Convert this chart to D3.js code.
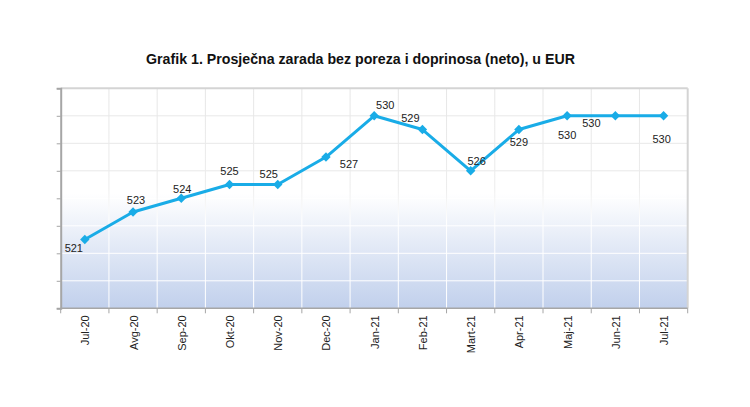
<!DOCTYPE html>
<html>
<head>
<meta charset="utf-8">
<script src="https://cdn.jsdelivr.net/npm/d3@7"></script>
<style>
  html, body { margin: 0; padding: 0; background: #ffffff; }
  svg { display: block; }
</style>
</head>
<body>
<svg id="chart" width="750" height="407"></svg>
<script>
const categories = ["Jul-20","Avg-20","Sep-20","Okt-20","Nov-20","Dec-20","Jan-21","Feb-21","Mart-21","Apr-21","Maj-21","Jun-21","Jul-21"];
const values = [521, 523, 524, 525, 525, 527, 530, 529, 526, 529, 530, 530, 530];
const yTicks = [516, 518, 520, 522, 524, 526, 528, 530, 532];
const title = "Grafik 1. Prosječna zarada bez poreza i doprinosa (neto), u EUR";
// label offsets relative to point (dx, dy of baseline)
const labelOffsets = [[-11,12],[3,-8],[1,-5],[0,-10],[-9,-7],[23,11],[11,-7],[-12,-8],[6,-6],[0,16],[0,23],[-24,11],[-2,27]];

(function () {
const svg = d3.select("#chart");
const pL = 60.7, pR = 687.7, pT = 88.3, pB = 308.3;

const x = d3.scaleBand().domain(categories).range([pL, pR]).padding(0);
const y = d3.scaleLinear().domain([516, 532]).range([pB, pT]);
const cx = d => x(d) + x.bandwidth() / 2;

const defs = svg.append("defs");
const bg = defs.append("linearGradient").attr("id", "bg")
  .attr("gradientUnits", "userSpaceOnUse")
  .attr("x1", 0).attr("x2", 0).attr("y1", pT).attr("y2", pB);
bg.append("stop").attr("offset", 0).attr("stop-color", "#ffffff");
bg.append("stop").attr("offset", 0.48).attr("stop-color", "#ffffff");
bg.append("stop").attr("offset", 1).attr("stop-color", "#c1d0ec");

const gg = defs.append("linearGradient").attr("id", "gridg")
  .attr("gradientUnits", "userSpaceOnUse")
  .attr("x1", 0).attr("x2", 0).attr("y1", pT).attr("y2", pB);
gg.append("stop").attr("offset", 0).attr("stop-color", "#e6e6e6");
gg.append("stop").attr("offset", 0.45).attr("stop-color", "#ececec");
gg.append("stop").attr("offset", 0.6).attr("stop-color", "#ffffff");
gg.append("stop").attr("offset", 1).attr("stop-color", "#ffffff");

// background
svg.append("rect").attr("x", pL).attr("y", pT)
  .attr("width", pR - pL).attr("height", pB - pT)
  .attr("fill", "url(#bg)");

// horizontal grid
const hColor = v => ((y(v) - pT) / (pB - pT) < 0.5 ? "#e8e8e8" : "#ffffff");
svg.append("g").selectAll("line").data(yTicks.slice(1, -1)).join("line")
  .attr("x1", pL).attr("x2", pR)
  .attr("y1", d => y(d)).attr("y2", d => y(d))
  .attr("stroke", d => hColor(d)).attr("stroke-width", 1);

// vertical grid
svg.append("g").selectAll("rect").data(categories.slice(1)).join("rect")
  .attr("x", d => x(d) - 0.5).attr("width", 1)
  .attr("y", pT).attr("height", pB - pT)
  .attr("fill", "url(#gridg)");

// top and right border
svg.append("line").attr("x1", pL).attr("x2", pR).attr("y1", pT).attr("y2", pT)
  .attr("stroke", "#d4d4d4").attr("stroke-width", 2);
svg.append("line").attr("x1", pR).attr("x2", pR).attr("y1", pT).attr("y2", pB)
  .attr("stroke", "#d4d4d4").attr("stroke-width", 2);

// left axis
const yAxis = d3.axisLeft(y).tickValues(yTicks).tickSize(4).tickFormat("");
const gy = svg.append("g").attr("transform", `translate(${pL},0)`).call(yAxis);
gy.select(".domain").attr("stroke", "#a6a6a6").attr("stroke-width", 2);
gy.selectAll(".tick line").attr("stroke", "#a6a6a6");

// bottom axis: ticks at band boundaries
const gx = svg.append("g");
gx.append("line").attr("x1", pL).attr("x2", pR).attr("y1", pB).attr("y2", pB)
  .attr("stroke", "#a6a6a6").attr("stroke-width", 1.5);
const bounds = categories.map(d => x(d)).concat([pR]);
gx.selectAll("line.t").data(bounds).join("line").attr("class", "t")
  .attr("x1", d => d).attr("x2", d => d).attr("y1", pB).attr("y2", pB + 5)
  .attr("stroke", "#a6a6a6").attr("stroke-width", 1);
gx.selectAll("text").data(categories).join("text")
  .attr("transform", d => `translate(${cx(d) + 4.5},${pB + 7}) rotate(-90)`)
  .attr("text-anchor", "end")
  .attr("font-family", "Liberation Sans, Arial, sans-serif")
  .attr("font-size", 11).attr("fill", "#222")
  .text(d => d);

// line
const pts = categories.map((c, i) => ({c, v: values[i], i}));
svg.append("path").datum(pts)
  .attr("fill", "none").attr("stroke", "#19ace7").attr("stroke-width", 3)
  .attr("stroke-linejoin", "round")
  .attr("d", d3.line().x(d => cx(d.c)).y(d => y(d.v)));

svg.append("g").selectAll("path").data(pts).join("path")
  .attr("transform", d => `translate(${cx(d.c)},${y(d.v)}) rotate(45)`)
  .attr("d", d3.symbol().type(d3.symbolSquare).size(44))
  .attr("fill", "#19ace7");

// labels
svg.append("g").selectAll("text").data(pts).join("text")
  .attr("x", d => cx(d.c) + labelOffsets[d.i][0])
  .attr("y", d => y(d.v) + labelOffsets[d.i][1])
  .attr("text-anchor", "middle")
  .attr("font-family", "Liberation Sans, Arial, sans-serif")
  .attr("font-size", 11).attr("fill", "#222")
  .text(d => d.v);

// title
svg.append("text").attr("x", 360.5).attr("y", 63.5)
  .attr("text-anchor", "middle")
  .attr("font-family", "Liberation Sans, Arial, sans-serif")
  .attr("font-weight", "bold").attr("font-size", 14.2).attr("fill", "#111")
  .text(title);
})();
</script>
</body>
</html>
